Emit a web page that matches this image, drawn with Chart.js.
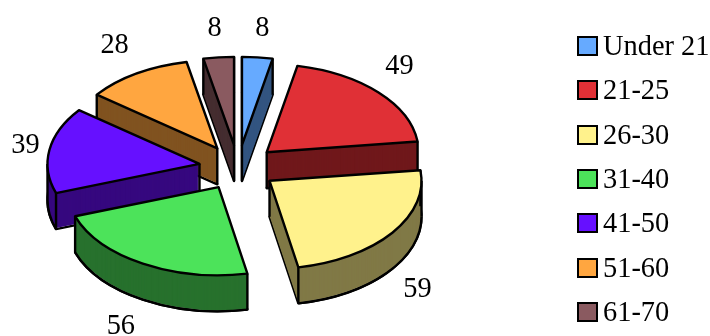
<!DOCTYPE html>
<html>
<head>
<meta charset="utf-8">
<script src="https://cdn.jsdelivr.net/npm/chart.js@4"></script>
<style>
  html, body { margin: 0; padding: 0; background: #fff; overflow: hidden; }
  #wrap { position: relative; width: 710px; height: 336px; }
  #legend { position: absolute; left: 577px; top: 24px; width: 133px; font: 28.4px "Liberation Serif", serif; color: #000; }
  .row { display: flex; align-items: center; height: 44.33px; white-space: nowrap; }
  .box { width: 21px; height: 20px; box-sizing: border-box; border: 2.4px solid #000; margin-right: 5px; flex: none; }
</style>
</head>
<body>
<div id="wrap">
  <canvas id="pie" width="710" height="336"></canvas>
  <div id="legend"></div>
</div>
<script>
const categories = ["Under 21", "21-25", "26-30", "31-40", "41-50", "51-60", "61-70"];
const counts = [8, 49, 59, 56, 39, 28, 8];
const topColors = ["#66aaff", "#e03036", "#fff28c", "#4ce35a", "#6610ff", "#ffa640", "#8a5a60"];
const sideColors = ["#335580", "#70181b", "#807946", "#27712d", "#36087f", "#805320", "#452d30"];

// how the flat pie gets laid down
const centerX = 238, centerY = 167.5, squash = 0.58, depth = 36, explode = 39;
// label shift from the slice rim
const labelShift = [[5, -28.5], [21, -26], [25, 21], [-22, 27], [-24, -4], [-22, -28], [-4, -28.5]];

function sliceCenter(arc) {
  const mid = (arc.startAngle + arc.endAngle) / 2;
  return {
    mid,
    x: centerX + explode * Math.cos(mid),
    y: centerY + explode * Math.sin(mid) * squash
  };
}

function tracePath(ctx, arc, c, drop) {
  ctx.beginPath();
  ctx.moveTo(c.x, c.y + drop);
  ctx.ellipse(c.x, c.y + drop, arc.outerRadius, arc.outerRadius * squash, 0, arc.startAngle, arc.endAngle);
  ctx.closePath();
}

// fill goes through the arc element itself, squashed
function fillArc(ctx, arc, c, drop, color) {
  const saved = arc.options;
  arc.options = Object.assign({}, saved, { backgroundColor: color });
  ctx.save();
  ctx.translate(c.x, c.y + drop);
  ctx.scale(1, squash);
  ctx.translate(-arc.x, -arc.y);
  arc.draw(ctx);
  ctx.restore();
  arc.options = saved;
}

const pie3d = {
  id: "pie3d",
  beforeDatasetDraw(chart, args) {
    const ctx = chart.ctx;
    const arcs = args.meta.data.map((arc, i) => ({ arc, i, c: sliceCenter(arc) }));
    arcs.sort((a, b) => a.c.y - b.c.y);
    ctx.save();
    ctx.strokeStyle = "#000";
    ctx.lineWidth = 2.4;
    ctx.lineJoin = "round";
    arcs.forEach(({ arc, i, c }) => {
      const r = arc.outerRadius;
      tracePath(ctx, arc, c, depth);
      ctx.stroke();
      for (let d = depth - 1; d > 0; d--) fillArc(ctx, arc, c, d, sideColors[i]);

      // front half of the bottom rim again, on top of the wall
      const from = Math.max(arc.startAngle, 0), to = Math.min(arc.endAngle, Math.PI);
      if (to > from) {
        ctx.beginPath();
        ctx.ellipse(c.x, c.y + depth, r, r * squash, 0, from, to);
        ctx.stroke();
      }

      // upright edges, the top face hides the ones behind it
      const angles = [arc.startAngle, arc.endAngle];
      [0, Math.PI].forEach(t => { if (t > arc.startAngle && t < arc.endAngle) angles.push(t); });
      ctx.beginPath();
      ctx.moveTo(c.x, c.y);
      ctx.lineTo(c.x, c.y + depth);
      angles.forEach(t => {
        const x = c.x + r * Math.cos(t), y = c.y + r * squash * Math.sin(t);
        ctx.moveTo(x, y);
        ctx.lineTo(x, y + depth);
      });
      ctx.stroke();

      fillArc(ctx, arc, c, 0, topColors[i]);
      tracePath(ctx, arc, c, 0);
      ctx.stroke();
    });
    ctx.restore();
    return false;
  },
  afterDatasetsDraw(chart) {
    const ctx = chart.ctx;
    const meta = chart.getDatasetMeta(0);
    ctx.save();
    ctx.fillStyle = "#000";
    ctx.font = '28.4px "Liberation Serif", serif';
    ctx.textAlign = "center";
    ctx.textBaseline = "middle";
    meta.data.forEach((arc, i) => {
      const c = sliceCenter(arc);
      const r = arc.outerRadius;
      const x = c.x + r * Math.cos(c.mid) + labelShift[i][0];
      let y = c.y + r * squash * Math.sin(c.mid) + labelShift[i][1];
      if (Math.sin(c.mid) > 0) y += depth;
      ctx.fillText(String(counts[i]), x, y);
    });
    ctx.restore();
  }
};

const chart = new Chart(document.getElementById("pie"), {
  type: "pie",
  data: {
    labels: categories,
    datasets: [{ data: counts, backgroundColor: topColors, borderWidth: 0 }]
  },
  options: {
    responsive: false,
    animation: false,
    radius: 152,
    plugins: { legend: { display: false }, tooltip: { enabled: false } }
  },
  plugins: [pie3d]
});

// legend is plain html, the canvas one can't get the box and text this close
document.getElementById("legend").innerHTML = chart.data.labels.map((label, i) =>
  `<div class="row"><span class="box" style="background:${topColors[i]}"></span><span>${label}</span></div>`
).join("");
</script>
</body>
</html>
